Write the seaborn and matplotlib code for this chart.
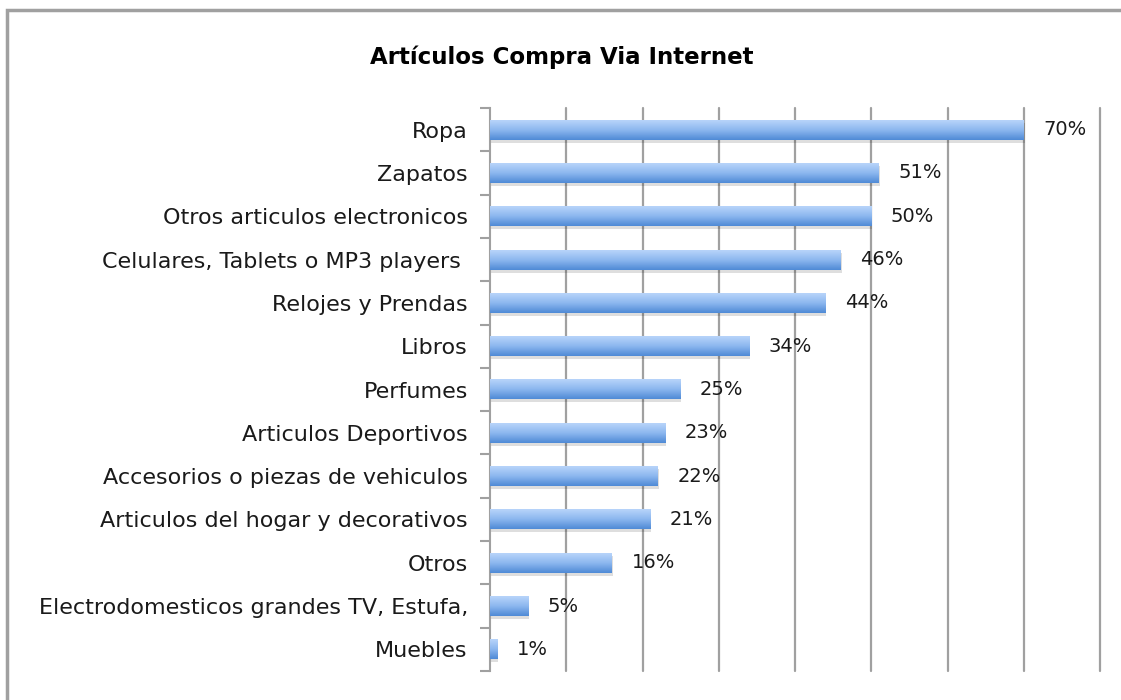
import matplotlib
matplotlib.use("Agg")
import matplotlib.pyplot as plt
import seaborn as sns
import numpy as np
import pandas as pd
from matplotlib.patches import Rectangle
from matplotlib.colors import LinearSegmentedColormap

categories = ["Ropa", "Zapatos", "Otros articulos electronicos",
              "Celulares, Tablets o MP3 players ", "Relojes y Prendas", "Libros",
              "Perfumes", "Articulos Deportivos", "Accesorios o piezas de vehiculos",
              "Articulos del hogar y decorativos", "Otros",
              "Electrodomesticos grandes TV, Estufa,", "Muebles"]
values = [0.70, 0.51, 0.50, 0.46, 0.44, 0.34, 0.25, 0.23, 0.22, 0.21, 0.16, 0.05, 0.01]
value_labels = ["70%", "51%", "50%", "46%", "44%", "34%", "25%", "23%", "22%", "21%", "16%", "5%", "1%"]
title = "Artículos Compra Via Internet"

df = pd.DataFrame({"cat": categories, "val": values})

sns.set_theme(style="white")
plt.rcParams["font.family"] = ["DejaVu Sans"]

fig = plt.figure(figsize=(11.21, 7.0), dpi=100)
ax = fig.add_axes([490/1121, 1-671/700, 610/1121, (671-108)/700])

sns.barplot(data=df, y="cat", x="val", orient="h", width=0.46,
            color="#6fa3e6", ax=ax, zorder=3)

ax.set_xlim(0, 0.8)
ax.set_ylim(len(categories)-0.5, -0.5)

cmap = LinearSegmentedColormap.from_list("g", ["#b8d4fa", "#8cb7ef", "#4f8ad6"])
grad = np.linspace(0, 1, 64).reshape(-1, 1)
for p in ax.patches:
    x0, y0 = p.get_x(), p.get_y()
    w, h = p.get_width(), p.get_height()
    # soft shadow
    ax.add_patch(Rectangle((x0 + 0.001, y0 + 0.07), w, h, facecolor="#000000",
                           alpha=0.13, edgecolor="none", zorder=2))
    p.set_visible(False)
    ax.imshow(grad, cmap=cmap, aspect="auto", extent=(x0, x0 + w, y0 + h, y0),
              zorder=4, interpolation="bicubic")

ax.bar_label(ax.containers[0], labels=value_labels, padding=14,
             fontsize=14, color="#1a1a1a", zorder=5)

ax.set_xticks(np.arange(0.1, 0.81, 0.1))
ax.set_xticklabels([])
ax.tick_params(axis="x", length=0)
ax.xaxis.grid(True, color="#a0a0a0", linewidth=1.6, zorder=0)
for gl in ax.get_xgridlines():
    gl.set_clip_on(False)
ax.set_axisbelow(True)

ax.set_yticks(range(len(categories)))
ax.set_yticklabels(categories, fontsize=16, color="#1a1a1a")
ax.tick_params(axis="y", which="major", length=0, pad=16)
ax.set_yticks(np.arange(-0.5, len(categories), 1.0), minor=True)
ax.tick_params(axis="y", which="minor", length=7, width=1.5, color="#a0a0a0", left=True)

ax.set_xlabel("")
ax.set_ylabel("")
for s in ["top", "right", "bottom"]:
    ax.spines[s].set_visible(False)
ax.spines["left"].set_color("#a0a0a0")
ax.spines["left"].set_linewidth(1.5)

fig.text(562/1121, 1-57/700, title, ha="center", va="center",
         fontsize=16.5, fontweight="bold", color="#000000")

fig.patches.append(Rectangle((7/1121, -0.05), 1.1, 1-10/700 + 0.05,
                             transform=fig.transFigure, fill=False,
                             edgecolor="#a0a0a0", linewidth=2.5))

fig.savefig("out.png", dpi=100, facecolor="white")
